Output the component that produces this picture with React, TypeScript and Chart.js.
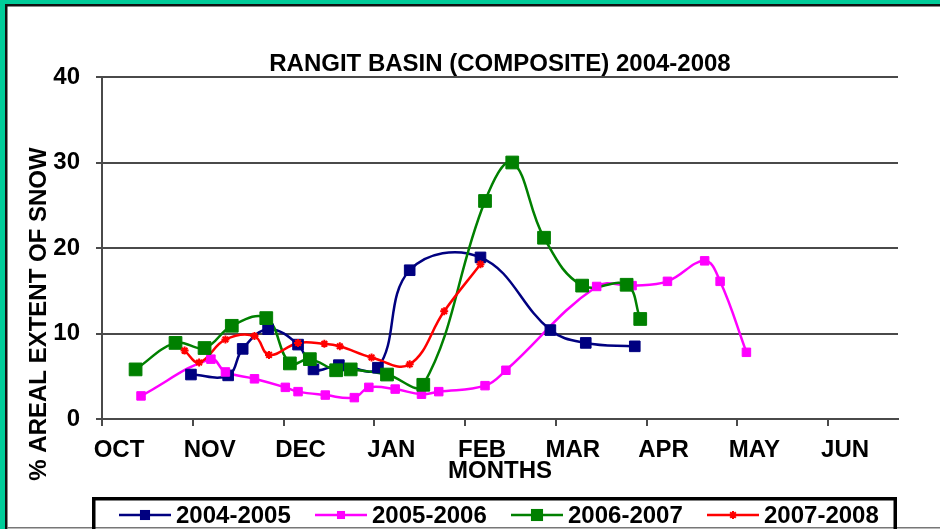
import React, { useEffect, useRef } from 'react';
import { Chart, registerables } from 'chart.js';

Chart.register(...registerables);

const TITLE = 'RANGIT BASIN (COMPOSITE) 2004-2008';
const Y_TITLE = '% AREAL EXTENT OF SNOW';
const X_TITLE = 'MONTHS';
const MONTH_LABELS = ['OCT', 'NOV', 'DEC', 'JAN', 'FEB', 'MAR', 'APR', 'MAY', 'JUN'];
const SERIES_NAMES = ['2004-2005', '2005-2006', '2006-2007', '2007-2008'];
const SERIES_COLORS = ['#000080', '#FF00FF', '#008000', '#FF0000'];

// x = months elapsed since 1 October, y = % areal extent of snow
const X_0405 = [0.98, 1.39, 1.55, 1.83, 2.16, 2.33, 2.61, 3.04, 3.39, 4.17, 4.94, 5.33, 5.87];
const Y_0405 = [5.2, 5.1, 8.2, 10.5, 8.7, 5.8, 6.3, 6.0, 17.4, 18.9, 10.4, 8.9, 8.5];

const X_0506 = [0.43, 1.2, 1.36, 1.68, 2.02, 2.16, 2.46, 2.78, 2.94, 3.23, 3.52, 3.71, 4.22, 4.45, 5.45, 5.84, 6.23, 6.64, 6.81, 7.1];
const Y_0506 = [2.7, 7.0, 5.5, 4.7, 3.7, 3.2, 2.8, 2.5, 3.7, 3.5, 2.9, 3.2, 3.9, 5.7, 15.5, 15.6, 16.1, 18.5, 16.1, 7.8];

const X_0607 = [0.37, 0.81, 1.13, 1.43, 1.81, 2.07, 2.29, 2.58, 2.74, 3.14, 3.54, 4.22, 4.52, 4.87, 5.29, 5.78, 5.93];
const Y_0607 = [5.8, 8.9, 8.3, 10.9, 11.8, 6.5, 7.0, 5.7, 5.8, 5.2, 4.0, 25.5, 30.0, 21.2, 15.6, 15.7, 11.7];

const X_0708 = [0.91, 1.07, 1.36, 1.68, 1.84, 2.16, 2.45, 2.62, 2.97, 3.39, 3.77, 4.17];
const Y_0708 = [8.0, 6.6, 9.3, 9.7, 7.5, 8.9, 8.8, 8.5, 7.2, 6.4, 12.6, 18.1];

const SERIES_X = [X_0405, X_0506, X_0607, X_0708];
const SERIES_Y = [Y_0405, Y_0506, Y_0607, Y_0708];
const POINT_STYLES = ['rect', 'rect', 'rect', 'star'];
const POINT_RADII = [7.5, 6, 9, 4];

const Y_MIN = 0;
const Y_MAX = 40;
const Y_STEP = 10;
const X_MAX = 8.77;

const FONT_FAMILY = '"Liberation Sans", Arial, Helvetica, sans-serif';
const GRID_COLOR = '#4a4a4a';

const framePlugin = {
  id: 'frame',
  beforeDraw(chart: any) {
    const { ctx, width, height } = chart;
    ctx.save();
    ctx.fillStyle = '#ffffff';
    ctx.fillRect(0, 0, width, height);
    ctx.fillStyle = '#00CC99';
    ctx.fillRect(0, 0, width, 4);
    ctx.fillRect(0, 0, 5, height);
    ctx.fillStyle = '#111111';
    ctx.fillRect(5, 4, width - 5, 2.5);
    ctx.fillRect(5, 4, 2.5, height - 4);
    ctx.fillStyle = '#777777';
    ctx.fillRect(7, 527, width - 7, 1.5);
    ctx.restore();
  },
};

function drawMarker(ctx: CanvasRenderingContext2D, style: string, r: number, x: number, y: number, color: string) {
  ctx.save();
  ctx.fillStyle = color;
  ctx.strokeStyle = color;
  if (style === 'rect') {
    const s = Math.SQRT1_2 * r;
    ctx.fillRect(x - s, y - s, 2 * s, 2 * s);
  } else {
    ctx.lineWidth = 2;
    ctx.beginPath();
    for (let k = 0; k < 4; k++) {
      const a = (k * Math.PI) / 4;
      ctx.moveTo(x - Math.cos(a) * r, y - Math.sin(a) * r);
      ctx.lineTo(x + Math.cos(a) * r, y + Math.sin(a) * r);
    }
    ctx.stroke();
  }
  ctx.restore();
}

const annotationsPlugin = {
  id: 'annotations',
  afterDraw(chart: any) {
    const { ctx } = chart;
    ctx.save();
    // rotated y-axis title
    ctx.translate(39, 314);
    ctx.rotate(-Math.PI / 2);
    ctx.font = `bold 24px ${FONT_FAMILY}`;
    ctx.fillStyle = '#000';
    ctx.textAlign = 'center';
    ctx.textBaseline = 'middle';
    ctx.fillText(Y_TITLE, 0, 0);
    ctx.restore();

    // legend box
    ctx.save();
    ctx.strokeStyle = '#000';
    ctx.lineWidth = 3.5;
    ctx.strokeRect(93.75, 498.75, 801.5, 60);
    ctx.font = `bold 24px ${FONT_FAMILY}`;
    ctx.textAlign = 'left';
    ctx.textBaseline = 'middle';
    const ly = 515;
    SERIES_NAMES.forEach((name, i) => {
      const lx = 119 + i * 196;
      ctx.strokeStyle = SERIES_COLORS[i];
      ctx.lineWidth = 2.5;
      ctx.beginPath();
      ctx.moveTo(lx, ly);
      ctx.lineTo(lx + 52, ly);
      ctx.stroke();
      drawMarker(ctx, POINT_STYLES[i], POINT_RADII[i] * (i === 3 ? 1 : 0.95), lx + 26, ly, SERIES_COLORS[i]);
      ctx.fillStyle = '#000';
      ctx.fillText(name, lx + 57, ly + 1);
    });
    ctx.restore();
  },
};

function buildDatasets() {
  const lines = SERIES_NAMES.map((name, i) => ({
    label: name,
    data: SERIES_X[i].map((x, j) => ({ x, y: SERIES_Y[i][j] })),
    borderColor: SERIES_COLORS[i],
    backgroundColor: SERIES_COLORS[i],
    borderWidth: 2.5,
    tension: 0.4,
    pointRadius: 0,
    pointHoverRadius: 0,
    fill: false,
    order: 20 - i,
  }));
  const points = SERIES_NAMES.map((name, i) => ({
    label: name + ' markers',
    data: SERIES_X[i].map((x, j) => ({ x, y: SERIES_Y[i][j] })),
    borderColor: SERIES_COLORS[i],
    backgroundColor: SERIES_COLORS[i],
    showLine: false,
    pointStyle: POINT_STYLES[i],
    pointRadius: POINT_RADII[i],
    pointBorderWidth: i === 3 ? 2 : 1,
    pointHoverRadius: POINT_RADII[i],
    fill: false,
    order: 10 - i,
  }));
  return [...lines, ...points];
}

export default function App() {
  const canvasRef = useRef<HTMLCanvasElement | null>(null);

  useEffect(() => {
    const canvas = canvasRef.current;
    if (!canvas) return;
    const chart = new Chart(canvas, {
      type: 'line',
      data: { datasets: buildDatasets() as any },
      options: {
        responsive: false,
        maintainAspectRatio: false,
        animation: false,
        devicePixelRatio: 1,
        layout: { padding: { left: 0, top: 0, right: 42, bottom: 40 } },
        plugins: {
          legend: { display: false },
          tooltip: { enabled: false },
          title: {
            display: true,
            text: TITLE,
            fullSize: false,
            color: '#000',
            font: { family: FONT_FAMILY, size: 24, weight: 'bold', lineHeight: 1 },
            padding: { top: 52, bottom: 1 },
          },
        },
        scales: {
          x: {
            type: 'linear',
            min: 0,
            max: X_MAX,
            grid: {
              drawOnChartArea: false,
              drawTicks: true,
              tickLength: 7,
              color: GRID_COLOR,
              lineWidth: 2,
            },
            border: { display: true, color: GRID_COLOR, width: 2 },
            ticks: {
              stepSize: 1,
              includeBounds: false,
              autoSkip: false,
              maxRotation: 0,
              minRotation: 0,
              labelOffset: 17,
              padding: 10,
              color: '#000',
              font: { family: FONT_FAMILY, size: 24, weight: 'bold', lineHeight: 1.2 },
              callback: (v: any) => (Number.isInteger(v) && MONTH_LABELS[v] ? MONTH_LABELS[v] : ''),
            },
            title: {
              display: true,
              text: X_TITLE,
              color: '#000',
              font: { family: FONT_FAMILY, size: 24, weight: 'bold', lineHeight: 1.2 },
              padding: { top: 0, bottom: 3 },
            },
            afterFit: (scale: any) => {
              scale.height = 70;
            },
          },
          y: {
            type: 'linear',
            min: Y_MIN,
            max: Y_MAX,
            grid: {
              drawOnChartArea: true,
              drawTicks: true,
              tickLength: 6,
              color: GRID_COLOR,
              lineWidth: 2,
            },
            border: { display: true, color: GRID_COLOR, width: 2 },
            ticks: {
              stepSize: Y_STEP,
              padding: 16,
              color: '#000',
              font: { family: FONT_FAMILY, size: 24, weight: 'bold', lineHeight: 1.2 },
            },
            afterFit: (scale: any) => {
              scale.width = 102;
            },
          },
        },
      },
      plugins: [framePlugin, annotationsPlugin],
    });
    return () => chart.destroy();
  }, []);

  return (
    <div style={{ position: 'absolute', left: 0, top: 0, width: 940, height: 529 }}>
      <canvas ref={canvasRef} width={940} height={529} style={{ display: 'block' }} />
    </div>
  );
}
